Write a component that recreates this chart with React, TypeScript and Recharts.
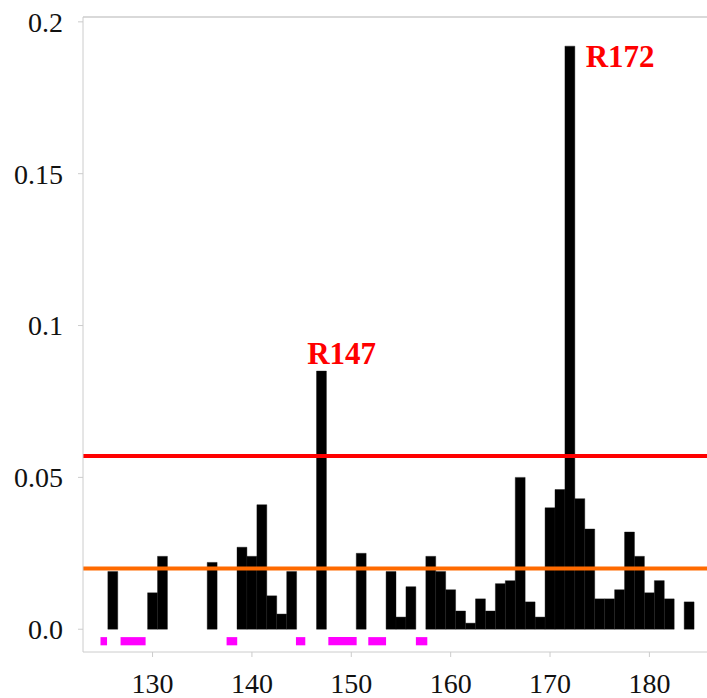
import React from 'react';
import { BarChart, Bar, XAxis, YAxis, ReferenceLine, ReferenceArea, ReferenceDot } from 'recharts';

// residue numbers along the x axis
const residues = [
  123, 124, 125, 126, 127, 128, 129, 130, 131, 132, 133, 134, 135, 136, 137, 138,
  139, 140, 141, 142, 143, 144, 145, 146, 147, 148, 149, 150, 151, 152, 153, 154,
  155, 156, 157, 158, 159, 160, 161, 162, 163, 164, 165, 166, 167, 168, 169, 170,
  171, 172, 173, 174, 175, 176, 177, 178, 179, 180, 181, 182, 183, 184, 185,
];

// score per residue (0 = no bar)
const scores = [
  0, 0, 0, 0.019, 0, 0, 0, 0.012, 0.024, 0, 0, 0, 0, 0.022, 0, 0,
  0.027, 0.024, 0.041, 0.011, 0.005, 0.019, 0, 0, 0.085, 0, 0, 0, 0.025, 0, 0, 0.019,
  0.004, 0.014, 0, 0.024, 0.019, 0.013, 0.006, 0.002, 0.010, 0.006, 0.015, 0.016, 0.050, 0.009, 0.004, 0.040,
  0.046, 0.192, 0.043, 0.033, 0.010, 0.010, 0.013, 0.032, 0.024, 0.012, 0.016, 0.010, 0, 0.009, 0,
];

// magenta segments under the axis (start, end residue)
const segStarts = [124.76, 126.78, 137.45, 144.43, 147.69, 151.71, 156.5];
const segEnds = [125.42, 129.3, 138.52, 145.37, 150.54, 153.5, 157.65];

const xTicks = [130, 140, 150, 160, 170, 180];
const yTicks = [0, 0.05, 0.1, 0.15, 0.2];

// threshold lines
const upperThreshold = 0.057;
const lowerThreshold = 0.02;

// peak annotations
const peakNames = ['R147', 'R172'];
const peakX = [149.03, 177.06];
const peakY = [0.091, 0.1889];

const data = residues.map((r, i) => ({ residue: r, score: scores[i] }));

const FONT = '"Liberation Serif", "Times New Roman", serif';
const X_DOMAIN: [number, number] = [123, 186.3];
const Y_DOMAIN: [number, number] = [-0.0075, 0.2016];

const App: React.FC = () => {
  return (
    <div style={{ position: 'absolute', left: 0, top: 0, width: 707, height: 698, overflow: 'hidden', background: '#fff' }}>
      <BarChart
        width={720}
        height={698}
        data={data}
        margin={{ top: 17, right: 8, left: 0, bottom: 6 }}
        barCategoryGap={0}
        barGap={0}
      >
        <XAxis
          dataKey="residue"
          type="number"
          domain={X_DOMAIN}
          allowDataOverflow
          ticks={xTicks}
          height={40}
          tickSize={5}
          tickMargin={16}
          axisLine={{ stroke: '#cccccc' }}
          tickLine={{ stroke: '#cccccc' }}
          tick={{ fontSize: 28, fontFamily: FONT, fill: '#111' }}
        />
        <YAxis
          type="number"
          domain={Y_DOMAIN}
          allowDataOverflow
          ticks={yTicks}
          width={83}
          tickSize={5}
          tickMargin={15}
          tickFormatter={(v) => (v === 0 ? '0.0' : String(v))}
          axisLine={{ stroke: '#cccccc' }}
          tickLine={{ stroke: '#cccccc' }}
          tick={{ fontSize: 28, fontFamily: FONT, fill: '#111' }}
        />

        {/* top frame line */}
        <ReferenceLine y={Y_DOMAIN[1]} stroke="#cccccc" strokeWidth={1.5} />

        {/* barSize just under the band so recharts doesn't shrink it */}
        <Bar dataKey="score" fill="#000000" stroke="#111111" strokeWidth={0.4} barSize={9.9} isAnimationActive={false} />

        {segStarts.map((s, i) => (
          <ReferenceArea
            key={'seg' + i}
            x1={s}
            x2={segEnds[i]}
            y1={-0.0053}
            y2={-0.0026}
            fill="#ff00ff"
            fillOpacity={1}
            stroke="none"
          />
        ))}

        <ReferenceLine y={upperThreshold} stroke="#ff0000" strokeWidth={4} />
        <ReferenceLine y={lowerThreshold} stroke="#ff6a00" strokeWidth={4} />

        {peakNames.map((name, i) => (
          <ReferenceDot
            key={name}
            x={peakX[i]}
            y={peakY[i]}
            r={0}
            fill="none"
            stroke="none"
            label={{ value: name, position: 'center', fill: '#ff0000', fontSize: 31, fontWeight: 'bold', fontFamily: FONT }}
          />
        ))}
      </BarChart>
    </div>
  );
};

export default App;
